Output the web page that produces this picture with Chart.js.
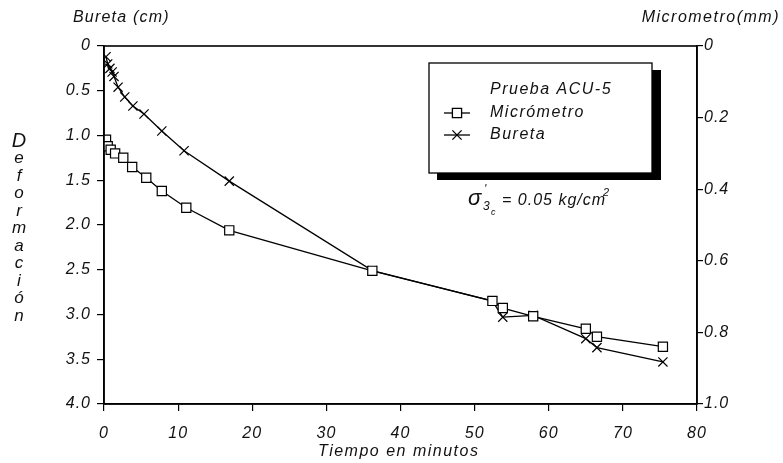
<!DOCTYPE html>
<html><head><meta charset="utf-8">
<script src="https://cdn.jsdelivr.net/npm/chart.js@4/dist/chart.umd.min.js"></script>
<style>html,body{margin:0;padding:0;background:#fff}#w{width:783px;height:463px}</style>
</head><body><div id="w"><canvas id="c" width="783" height="463"></canvas></div>
<script>
// Data (time in minutes)
const timeBureta = [0.27, 0.5, 0.8, 1.1, 1.35, 1.9, 2.8, 3.9, 5.4, 7.8, 10.8, 16.9, 36.2, 52.4, 53.8, 57.9, 65.0, 66.5, 75.4];
const bureta     = [0.12, 0.20, 0.25, 0.29, 0.34, 0.46, 0.57, 0.67, 0.76, 0.95, 1.17, 1.51, 2.51, 2.85, 3.03, 3.01, 3.27, 3.37, 3.53]; // cm
const timeMicro  = [0.27, 0.5, 0.9, 1.5, 2.6, 3.8, 5.7, 7.8, 11.1, 16.9, 36.2, 52.4, 53.8, 57.9, 65.0, 66.5, 75.4];
const micro      = [0.262, 0.28, 0.29, 0.30, 0.312, 0.338, 0.368, 0.405, 0.452, 0.515, 0.628, 0.712, 0.732, 0.755, 0.79, 0.812, 0.84]; // mm
const xTicks = [0,10,20,30,40,50,60,70,80];
const leftTicks = [0,0.5,1.0,1.5,2.0,2.5,3.0,3.5,4.0];
const rightTicks = [0,0.2,0.4,0.6,0.8,1.0];

const FONT = "'Liberation Sans', Arial, sans-serif";
const tickFont = {family: FONT, size: 16, style: 'italic'};

const spacing = {
  id: 'spacing',
  beforeDraw(chart) { chart.ctx.letterSpacing = '1px'; }
};

const decor = {
  id: 'decor',
  afterDraw(chart) {
    const ctx = chart.ctx, a = chart.chartArea;
    ctx.save();
    ctx.strokeStyle = '#000'; ctx.lineWidth = 1.6;
    ctx.strokeRect(a.left, a.top, a.right - a.left, a.bottom - a.top);
    ctx.fillStyle = '#111';
    ctx.letterSpacing = '1.2px';
    ctx.font = "italic 16px " + FONT;
    ctx.textBaseline = 'middle';
    ctx.textAlign = 'left';
    ctx.fillText('Bureta (cm)', 73, 18);
    ctx.textAlign = 'right';
    ctx.letterSpacing = '1.5px';
    ctx.fillText('Micrometro(mm)', 780, 18);
    // vertical label
    const letters = ['D','e','f','o','r','m','a','c','i','ó','n'];
    ctx.textAlign = 'center';
    ctx.letterSpacing = '0px';
    letters.forEach((L, i) => {
      ctx.font = (i === 0 ? "italic 20px " : "italic 17px ") + FONT;
      ctx.fillText(L, 19, 141 + i * 17.5);
    });
    ctx.letterSpacing = '1.5px';
    ctx.font = "italic 16px " + FONT;
    ctx.textAlign = 'left';
    ctx.fillText('Tiempo en minutos', 318, 452);
    // legend box with shadow
    ctx.fillStyle = '#000';
    ctx.fillRect(437, 70, 224, 110);
    ctx.fillStyle = '#fff';
    ctx.fillRect(429, 63, 223, 110);
    ctx.strokeStyle = '#000'; ctx.lineWidth = 1.3;
    ctx.strokeRect(429, 63, 223, 110);
    ctx.fillStyle = '#111';
    ctx.textAlign = 'left';
    ctx.font = "italic 16px " + FONT;
    ctx.fillText('Prueba ACU-5', 490, 90);
    ctx.fillText('Micrómetro', 490, 113);
    ctx.fillText('Bureta', 490, 135);
    ctx.lineWidth = 1.3;
    ctx.beginPath(); ctx.moveTo(444, 113); ctx.lineTo(470, 113); ctx.stroke();
    ctx.beginPath(); ctx.moveTo(444, 135); ctx.lineTo(470, 135); ctx.stroke();
    ctx.fillStyle = '#fff';
    Chart.helpers.drawPoint(ctx, {pointStyle: 'rect', radius: 6.5, borderWidth: 1.2, rotation: 0}, 457, 113);
    Chart.helpers.drawPoint(ctx, {pointStyle: 'crossRot', radius: 6.5, borderWidth: 1.2, rotation: 0}, 457, 135);
    // sigma annotation
    ctx.fillStyle = '#111';
    ctx.letterSpacing = '0px';
    ctx.font = "italic 22px " + FONT;
    ctx.fillText('σ', 468, 199);
    ctx.font = "italic 12px " + FONT;
    ctx.fillText("'", 484, 190);
    ctx.fillText('3', 483, 207);
    ctx.font = "italic 9px " + FONT;
    ctx.fillText('c', 491, 212);
    ctx.letterSpacing = '1px';
    ctx.font = "italic 16px " + FONT;
    ctx.fillText('= 0.05 kg/cm', 502, 201);
    const w = ctx.measureText('= 0.05 kg/cm').width;
    ctx.font = "italic 11px " + FONT;
    ctx.fillText('2', 502 + w - 3, 193);
    ctx.restore();
  }
};

const common = {
  borderColor: '#000', borderWidth: 1.3, pointBorderColor: '#000',
  pointBackgroundColor: '#fff', pointBorderWidth: 1.2, pointRadius: 6.5,
  tension: 0, fill: false
};

new Chart(document.getElementById('c'), {
  type: 'scatter',
  data: {
    datasets: [
      Object.assign({label: 'Micrómetro', yAxisID: 'y1', pointStyle: 'rect', showLine: true,
        data: timeMicro.map((t, i) => ({x: t, y: micro[i]}))}, common),
      Object.assign({label: 'Bureta', yAxisID: 'y', pointStyle: 'crossRot', showLine: true,
        data: timeBureta.map((t, i) => ({x: t, y: bureta[i]}))}, common)
    ]
  },
  options: {
    responsive: false, animation: false,
    layout: {padding: {top: 46, left: 0, right: 0, bottom: 0}},
    plugins: {legend: {display: false}, tooltip: {enabled: false}},
    scales: {
      x: {
        type: 'linear', min: 0, max: 80,
        afterBuildTicks: s => { s.ticks = xTicks.map(v => ({value: v})); },
        afterFit: s => { s.height = 59; },
        grid: {display: true, drawOnChartArea: false, drawTicks: true, tickLength: 7, color: '#000', lineWidth: 1.2},
        border: {display: true, color: '#000', width: 1.6},
        ticks: {color: '#111', font: tickFont, padding: 13, maxRotation: 0}
      },
      y: {
        position: 'left', reverse: true, min: 0, max: 4,
        afterBuildTicks: s => { s.ticks = leftTicks.map(v => ({value: v})); },
        afterFit: s => { s.width = 104; },
        grid: {display: true, drawOnChartArea: false, drawTicks: true, tickLength: 7, color: '#000', lineWidth: 1.2},
        border: {display: true, color: '#000', width: 1.6},
        ticks: {color: '#111', font: tickFont, padding: 6, callback: v => v === 0 ? '0' : v.toFixed(1)}
      },
      y1: {
        position: 'right', reverse: true, min: 0, max: 1,
        afterBuildTicks: s => { s.ticks = rightTicks.map(v => ({value: v})); },
        afterFit: s => { s.width = 86; },
        grid: {display: true, drawOnChartArea: false, drawTicks: true, tickLength: 6, color: '#000', lineWidth: 1.2},
        border: {display: true, color: '#000', width: 1.6},
        ticks: {color: '#111', font: tickFont, padding: 1, callback: v => v === 0 ? '0' : v.toFixed(1)}
      }
    }
  },
  plugins: [spacing, decor]
});
</script>
</body></html>
